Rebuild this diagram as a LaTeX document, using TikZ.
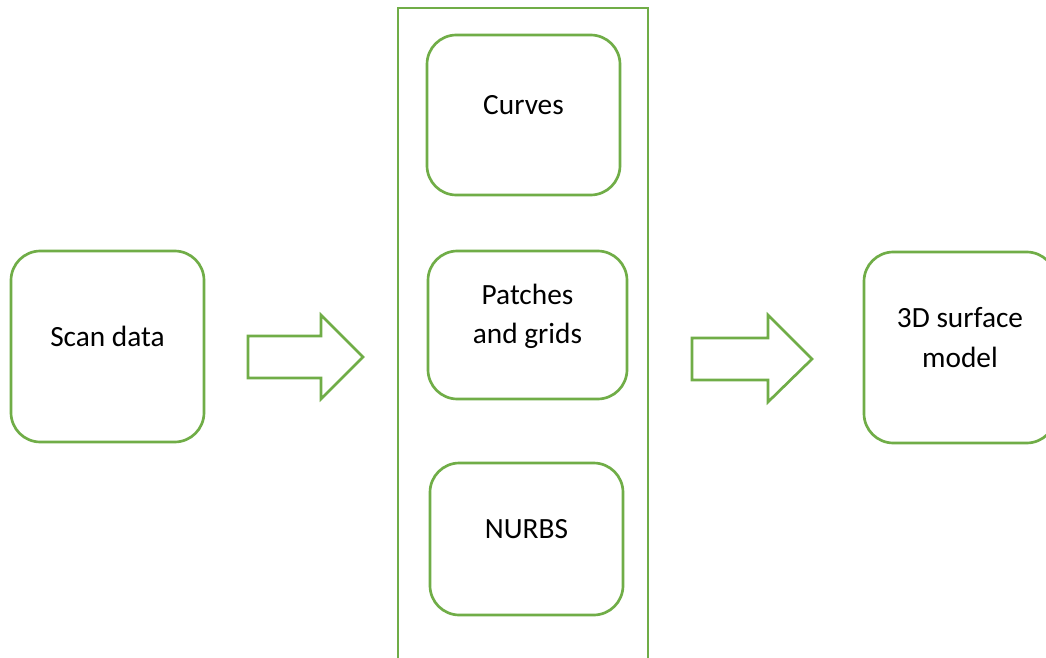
\documentclass[tikz,border=0pt]{standalone}
\usepackage{fontspec}
\setmainfont{Carlito}
\usepackage{tikz}
\usetikzlibrary{positioning}
\definecolor{boxgreen}{HTML}{70AD47}
\newcommand{\pxu}{0.75pt}

\tikzset{
  box/.style={draw=boxgreen, line width=2pt, rounded corners=22pt, fill=white},
  lbl/.style={font=\fontsize{22}{29.5}\selectfont, align=center, inner sep=0pt},
  blockarrow/.style={draw=boxgreen, line width=2pt, fill=white}
}

\begin{document}
\begin{tikzpicture}[x=0.75pt, y=-0.75pt]
        % Page
        \clip (0,0) rectangle (1046,657);
        \fill[white] (0,0) rectangle (1046,657);

        % Column holding the three methods
        \draw[draw=boxgreen, line width=2pt] (398,8) rectangle (648,680);

        % Boxes
        \node[box, minimum width=193*\pxu, minimum height=191*\pxu] (scan) at (107.5,346.5) {};
        \node[box, minimum width=193*\pxu, minimum height=160*\pxu] (curves) at (523.5,115) {};
        \node[box, minimum width=199*\pxu, minimum height=148*\pxu] (patches) at (527.5,325) {};
        \node[box, minimum width=193*\pxu, minimum height=152*\pxu] (nurbs) at (526.5,539) {};
        \node[box, minimum width=192*\pxu, minimum height=191*\pxu] (model) at (960,347.5) {};

        % Texts
        \node[lbl] (scantxt) at ([yshift=7.5pt]scan.center) {Scan data};
        \node[lbl] (curvestxt) at ([yshift=7.5pt]curves.center) {Curves};
        \node[lbl] (patchestxt) at ([yshift=6.5pt]patches.center) {Patches\\and grids};
        \node[lbl] (nurbstxt) at ([yshift=7.5pt]nurbs.center) {NURBS};
        \node[lbl] (modeltxt) at ([yshift=7.5pt]model.center) {3D surface\\model};

        % Block arrows
        \draw[blockarrow] (248,336) -- (321,336) -- (321,315) -- (363,357)
            -- (321,399) -- (321,378) -- (248,378) -- cycle;
        \draw[blockarrow] (692,338) -- (768,338) -- (768,315) -- (812,359)
            -- (768,402) -- (768,380) -- (692,380) -- cycle;
\end{tikzpicture}
\end{document}
